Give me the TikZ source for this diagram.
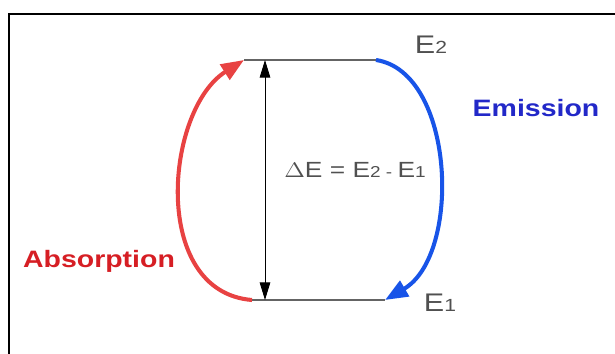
\documentclass[tikz,border=0pt]{standalone}
\usepackage{graphicx}
\usepackage{fontspec}
\setmainfont{Liberation Sans}
\usetikzlibrary{arrows.meta}
\usepackage{xcolor}

\definecolor{absred}{RGB}{232,66,66}
\definecolor{abstext}{RGB}{214,30,36}
\definecolor{emblue}{RGB}{24,84,232}
\definecolor{emtext}{RGB}{34,40,200}
\definecolor{levelgray}{RGB}{100,100,100}
\definecolor{labelgray}{RGB}{80,80,80}

% stretched lettering, as in the picture
\newcommand{\wide}[1]{\scalebox{1.2}[1]{#1}}
\newcommand{\lvl}[1]{{\fontsize{10}{11}\selectfont #1}}

\tikzset{
  level/.style={draw=levelgray, line width=0.8pt},
  trans/.style={line width=2.3pt, -{Triangle[length=13pt,width=10pt]}},
  gap/.style={line width=0.5pt, {Triangle[length=10pt,width=6pt]}-{Triangle[length=10pt,width=6pt]}},
  process/.style={font=\bfseries\fontsize{13.5}{15}\selectfont},
  energy/.style={text=labelgray, font=\fontsize{14.5}{16}\selectfont}
}

\begin{document}
\begin{tikzpicture}[x=0.02cm, y=-0.02cm]
        % Fix the page size
        \useasboundingbox (0,0) rectangle (615,354);

        % Frame (only top and left sides are shown)
        \draw[line width=1.6pt] (9,370) -- (9,14) -- (630,14);

        % Define ends of the two levels
        \coordinate (u1) at (244,60);   % Upper level, left
        \coordinate (u2) at (376,60);   % Upper level, right
        \coordinate (l1) at (252,300);  % Lower level, left
        \coordinate (l2) at (385,300);  % Lower level, right
        \coordinate (g1) at (265,60);   % Gap arrow, top
        \coordinate (g2) at (265,300);  % Gap arrow, bottom

        % Draw the energy levels
        \draw[level] (u1) -- (u2);
        \draw[level] (l1) -- (l2);

        % Draw the energy gap
        \draw[gap] (g1) -- (g2);

        % Absorption goes up, emission comes down
        \draw[trans, absred] (l1) .. controls (150,292) and (165,110) .. (u1);
        \draw[trans, emblue] (u2) .. controls (455,72) and (462,255) .. (l2);

        % Label the levels
        \node[energy] (e2) at (431,45) {\wide{E\lvl{2}}};
        \node[energy] (e1) at (440,303) {\wide{E\lvl{1}}};
        \node[energy, font=\fontsize{12.5}{14}\selectfont] (de) at (355,170)
            {\wide{$\Delta$E = E{\fontsize{9}{10}\selectfont 2 - }E{\fontsize{9}{10}\selectfont 1}}};

        % Label the processes
        \node[process, text=abstext] (abs) at (99,261) {\wide{Absorption}};
        \node[process, text=emtext] (emi) at (536,108) {\wide{Emission}};
\end{tikzpicture}
\end{document}
